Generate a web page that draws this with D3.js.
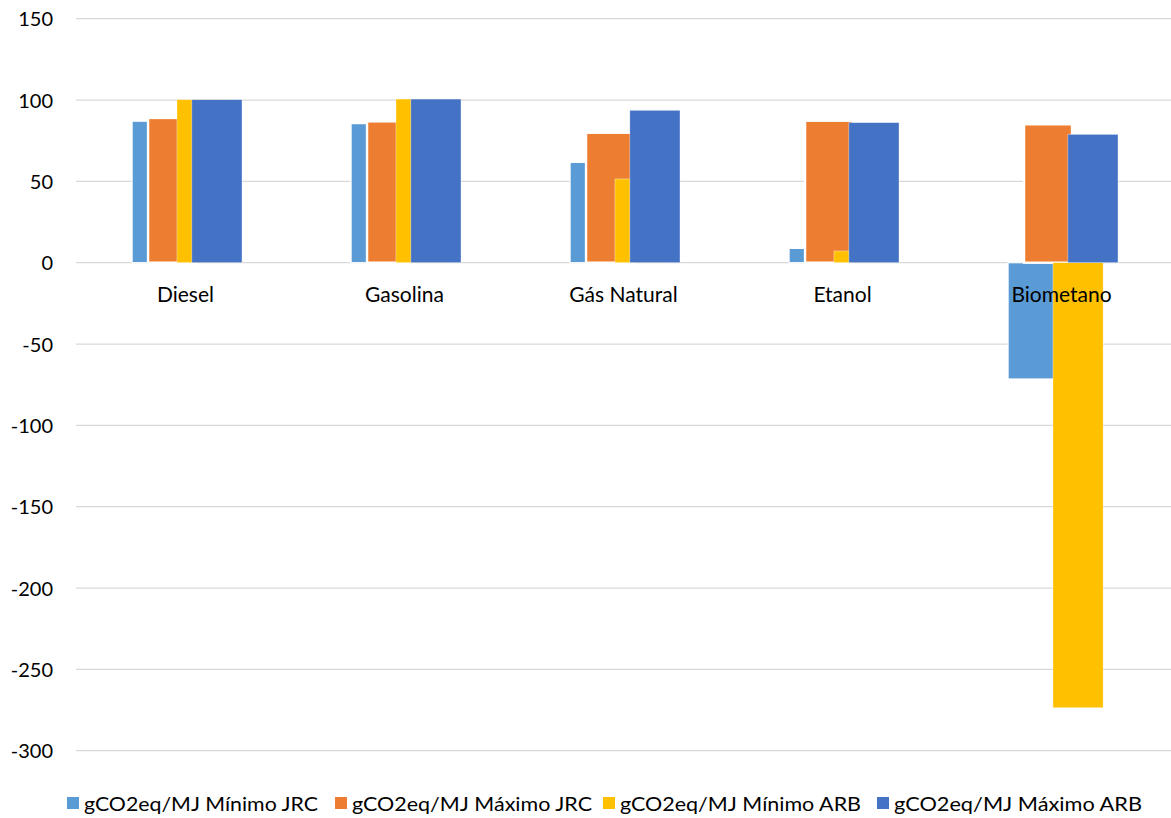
<!DOCTYPE html>
<html>
<head>
<meta charset="utf-8">
<script src="https://cdn.jsdelivr.net/npm/d3@7"></script>
<style>
  html, body { margin: 0; padding: 0; background: #fff; }
  svg { display: block; font-family: Lato, "Liberation Sans", sans-serif; }
</style>
</head>
<body>
<svg id="chart" width="1171" height="818"></svg>
<script>
// Emissões por combustível (gCO2eq/MJ)
const categories = ["Diesel", "Gasolina", "Gás Natural", "Etanol", "Biometano"];
const minimoJRC = [87, 85.5, 61.7, 8.8, -71.5];
const maximoJRC = [89, 86.9, 79.9, 87.3, 85.1];
const minimoARB = [100.2, 100.6, 51.5, 7.2, -273.6];
const maximoARB = [100.2, 100.6, 93.7, 86.1, 78.9];
const seriesNames = [
  "gCO2eq/MJ Mínimo JRC",
  "gCO2eq/MJ Máximo JRC",
  "gCO2eq/MJ Mínimo ARB",
  "gCO2eq/MJ Máximo ARB"
];
const yTicks = [150, 100, 50, 0, -50, -100, -150, -200, -250, -300];

const seriesValues = [minimoJRC, maximoJRC, minimoARB, maximoARB];
const colors = ["#5B9BD5", "#ED7D31", "#FFC000", "#4472C4"];

// Bars overlap: JRC pair drawn first, ARB pair drawn on top.
// Offsets/widths are fractions of the category band.
const barLayout = [
  { off: -0.244, w: 0.219, stroke: "#fff", sw: 1.2 },
  { off: -0.171, w: 0.219, stroke: "#fff", sw: 2.4 },
  { off: -0.039, w: 0.229, stroke: "#fff", sw: 0.6 },
  { off: 0.029, w: 0.229, stroke: "#fff", sw: 0.6 }
];

const svg = d3.select("#chart");
const plot = { left: 76, right: 1171, top: 18.7, bottom: 750.7 };

const x = d3.scaleBand().domain(categories).range([plot.left, plot.right]).padding(0);
const y = d3.scaleLinear().domain([-300, 150]).range([plot.bottom, plot.top]);

// horizontal gridlines
svg.append("g")
  .selectAll("line")
  .data(yTicks)
  .join("line")
  .attr("x1", plot.left)
  .attr("x2", plot.right)
  .attr("y1", d => y(d))
  .attr("y2", d => y(d))
  .attr("stroke", "#D9D9D9")
  .attr("stroke-width", 1.3);

// value axis labels (plain hyphen for negatives)
const yAxis = d3.axisLeft(y).tickValues(yTicks).tickSize(0).tickPadding(0).tickFormat(d => String(d));
const yAxisG = svg.append("g")
  .attr("transform", `translate(${53},0)`)
  .call(yAxis);
yAxisG.select(".domain").remove();
yAxisG.selectAll("text")
  .attr("font-family", "Lato, 'Liberation Sans', sans-serif")
  .attr("font-size", 20)
  .attr("fill", "#000")
  .attr("dy", "0.35em");

// bars
const bw = x.bandwidth();
seriesValues.forEach((vals, si) => {
  const lay = barLayout[si];
  svg.append("g")
    .selectAll("rect")
    .data(vals.map((v, i) => ({ cat: categories[i], v })))
    .join("rect")
    .attr("x", d => x(d.cat) + bw / 2 + lay.off * bw)
    .attr("width", lay.w * bw)
    .attr("y", d => y(Math.max(0, d.v)))
    .attr("height", d => Math.abs(y(d.v) - y(0)))
    .attr("fill", colors[si])
    .attr("stroke", lay.stroke)
    .attr("stroke-width", lay.sw)
    .attr("stroke-opacity", si < 2 ? 1 : 0.6);
});

// category labels along the zero line
svg.append("g")
  .selectAll("text")
  .data(categories)
  .join("text")
  .attr("x", d => x(d) + bw / 2)
  .attr("y", 302)
  .attr("text-anchor", "middle")
  .attr("font-size", 21)
  .attr("fill", "#000")
  .text(d => d);

// legend
const legendX = [67, 335, 603, 877];
const legendW = [234, 240, 241, 248];
const legend = svg.append("g");
seriesNames.forEach((name, i) => {
  legend.append("rect")
    .attr("x", legendX[i])
    .attr("y", 797)
    .attr("width", 12)
    .attr("height", 12)
    .attr("fill", colors[i]);
  legend.append("text")
    .attr("x", legendX[i] + 17)
    .attr("y", 811)
    .attr("font-size", 19)
    .attr("fill", "#000")
    .attr("textLength", legendW[i])
    .attr("lengthAdjust", "spacingAndGlyphs")
    .text(name);
});
</script>
</body>
</html>
